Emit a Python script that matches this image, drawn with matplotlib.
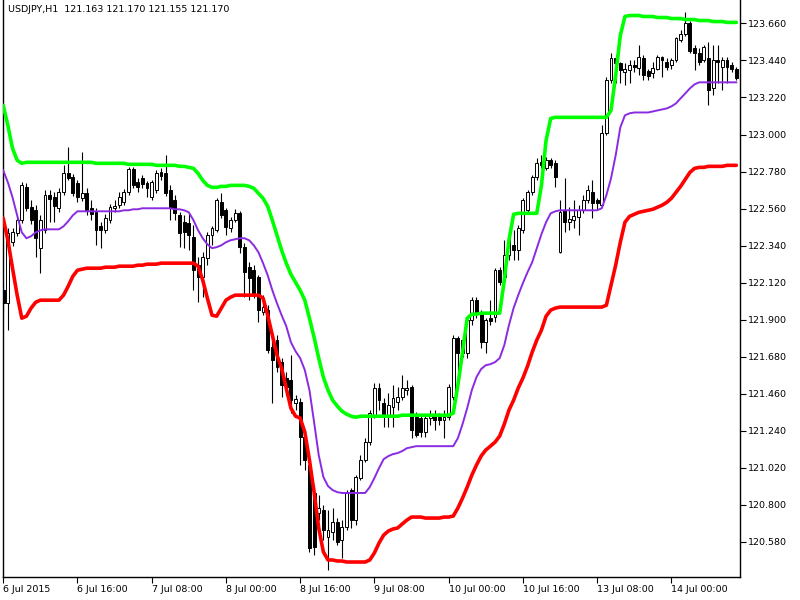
import matplotlib
matplotlib.use("Agg")
import matplotlib.pyplot as plt
import numpy as np

title_text = "USDJPY,H1  121.163 121.170 121.155 121.170"

x_tick_pos = [0, 16, 32, 48, 64, 80, 96, 112, 128, 144]
x_tick_labels = ["6 Jul 2015", "6 Jul 16:00", "7 Jul 08:00", "8 Jul 00:00", "8 Jul 16:00",
                 "9 Jul 08:00", "10 Jul 00:00", "10 Jul 16:00", "13 Jul 08:00", "14 Jul 00:00"]
y_ticks = [120.580, 120.800, 121.020, 121.240, 121.460, 121.680, 121.900, 122.120,
           122.340, 122.560, 122.780, 123.000, 123.220, 123.440, 123.660]

opens = [122.075, 121.998, 122.360, 122.413, 122.491, 122.686, 122.568, 122.550, 122.325, 122.431,
         122.639, 122.627, 122.562, 122.657, 122.769, 122.746, 122.710, 122.621, 122.651, 122.562,
         122.538, 122.455, 122.431, 122.491, 122.562, 122.580, 122.597, 122.657, 122.793, 122.716,
         122.740, 122.710, 122.627, 122.669, 122.775, 122.769, 122.669, 122.609, 122.520, 122.479,
         122.473, 122.390, 122.224, 122.152, 122.265, 122.402, 122.431, 122.597, 122.550, 122.443,
         122.491, 122.532, 122.331, 122.212, 122.194, 122.152, 121.945, 121.957, 121.737, 121.779,
         121.648, 121.553, 121.541, 121.404, 121.410, 121.203, 121.037, 120.871, 120.752, 120.770,
         120.610, 120.639, 120.698, 120.592, 120.669, 120.888, 120.710, 120.960, 121.066, 121.173,
         121.333, 121.494, 121.404, 121.333, 121.381, 121.410, 121.440, 121.482, 121.500, 121.321,
         121.316, 121.233, 121.316, 121.339, 121.321, 121.304, 121.321, 121.440, 121.790, 121.702,
         121.702, 121.897, 122.016, 121.939, 121.767, 121.909, 121.915, 122.194, 122.152, 122.283,
         122.342, 122.313, 122.431, 122.550, 122.657, 122.746, 122.835, 122.799, 122.847, 122.829,
         122.301, 122.550, 122.479, 122.491, 122.509, 122.550, 122.609, 122.657, 122.609, 122.580,
         123.007, 123.321, 123.452, 123.422, 123.369, 123.381, 123.410, 123.398, 123.452, 123.375,
         123.363, 123.392, 123.458, 123.428, 123.410, 123.440, 123.559, 123.600, 123.660, 123.511,
         123.482, 123.440, 123.452, 123.274, 123.440, 123.404, 123.440, 123.410, 123.392]
highs = [122.105, 122.443, 122.443, 122.520, 122.716, 122.710, 122.609, 122.580, 122.520, 122.669,
         122.669, 122.657, 122.681, 122.817, 122.924, 122.764, 122.728, 122.894, 122.681, 122.609,
         122.562, 122.479, 122.526, 122.586, 122.609, 122.657, 122.675, 122.805, 122.805, 122.740,
         122.758, 122.722, 122.728, 122.787, 122.799, 122.876, 122.698, 122.639, 122.538, 122.520,
         122.532, 122.461, 122.271, 122.301, 122.419, 122.455, 122.621, 122.651, 122.562, 122.509,
         122.556, 122.544, 122.354, 122.241, 122.224, 122.164, 122.046, 121.986, 121.796, 121.808,
         121.672, 121.589, 121.690, 121.452, 121.434, 121.244, 121.066, 120.918, 120.859, 120.799,
         120.770, 120.782, 120.722, 120.710, 120.888, 120.900, 120.977, 121.096, 121.197, 121.363,
         121.523, 121.523, 121.434, 121.464, 121.512, 121.500, 121.571, 121.541, 121.512, 121.351,
         121.339, 121.339, 121.363, 121.363, 121.345, 121.363, 121.518, 121.808, 121.802, 121.802,
         121.909, 122.034, 122.034, 121.957, 121.909, 122.016, 122.206, 122.212, 122.372, 122.396,
         122.431, 122.461, 122.621, 122.669, 122.758, 122.859, 122.876, 122.865, 122.859, 122.847,
         122.609, 122.740, 122.568, 122.609, 122.580, 122.639, 122.698, 122.728, 122.621, 123.054,
         123.339, 123.487, 123.470, 123.428, 123.422, 123.440, 123.440, 123.529, 123.470, 123.392,
         123.428, 123.470, 123.464, 123.452, 123.452, 123.582, 123.618, 123.725, 123.677, 123.529,
         123.511, 123.529, 123.547, 123.529, 123.529, 123.458, 123.458, 123.428, 123.404]
lows = [121.945, 121.838, 122.336, 122.396, 122.473, 122.544, 122.467, 122.271, 122.176, 122.413,
        122.479, 122.479, 122.538, 122.639, 122.728, 122.633, 122.597, 122.603, 122.520, 122.491,
        122.342, 122.325, 122.413, 122.473, 122.538, 122.562, 122.580, 122.639, 122.681, 122.657,
        122.681, 122.627, 122.609, 122.651, 122.728, 122.633, 122.491, 122.491, 122.331, 122.325,
        122.313, 122.075, 122.004, 122.034, 122.224, 122.342, 122.419, 122.503, 122.402, 122.419,
        122.479, 122.295, 122.034, 122.016, 122.028, 121.885, 121.927, 121.702, 121.404, 121.589,
        121.440, 121.452, 121.345, 121.363, 121.037, 121.007, 120.520, 120.503, 120.710, 120.592,
        120.414, 120.592, 120.562, 120.485, 120.651, 120.663, 120.681, 120.948, 121.054, 121.155,
        121.316, 121.363, 121.262, 121.262, 121.262, 121.363, 121.422, 121.452, 121.197, 121.203,
        121.203, 121.203, 121.274, 121.244, 121.274, 121.197, 121.304, 121.422, 121.583, 121.678,
        121.672, 121.868, 121.909, 121.731, 121.702, 121.868, 121.885, 122.105, 122.123, 122.253,
        122.253, 122.253, 122.413, 122.538, 122.639, 122.728, 122.799, 122.787, 122.799, 122.686,
        122.295, 122.419, 122.431, 122.443, 122.402, 122.532, 122.592, 122.503, 122.550, 122.568,
        122.995, 123.309, 123.309, 123.309, 123.292, 123.309, 123.369, 123.351, 123.321, 123.321,
        123.333, 123.381, 123.339, 123.381, 123.392, 123.428, 123.547, 123.588, 123.487, 123.381,
        123.410, 123.428, 123.173, 123.232, 123.309, 123.262, 123.309, 123.369, 123.321]
closes = [121.998, 122.414, 122.419, 122.491, 122.698, 122.562, 122.491, 122.384, 122.491, 122.639,
          122.615, 122.574, 122.657, 122.769, 122.740, 122.651, 122.627, 122.651, 122.550, 122.526,
          122.431, 122.431, 122.503, 122.568, 122.574, 122.627, 122.657, 122.793, 122.698, 122.686,
          122.704, 122.681, 122.716, 122.769, 122.752, 122.651, 122.562, 122.532, 122.413, 122.419,
          122.402, 122.194, 122.152, 122.271, 122.402, 122.443, 122.609, 122.520, 122.449, 122.491,
          122.532, 122.331, 122.182, 122.146, 122.057, 121.957, 121.975, 121.719, 121.660, 121.619,
          121.512, 121.500, 121.422, 121.428, 121.203, 121.066, 120.544, 120.550, 120.782, 120.651,
          120.651, 120.698, 120.580, 120.669, 120.871, 120.710, 120.966, 121.066, 121.173, 121.345,
          121.494, 121.422, 121.321, 121.393, 121.434, 121.440, 121.494, 121.494, 121.244, 121.215,
          121.233, 121.316, 121.339, 121.304, 121.304, 121.321, 121.500, 121.790, 121.702, 121.779,
          121.897, 122.016, 121.939, 121.767, 121.897, 121.891, 122.194, 122.123, 122.283, 122.384,
          122.313, 122.443, 122.609, 122.657, 122.746, 122.829, 122.817, 122.847, 122.817, 122.746,
          122.538, 122.479, 122.497, 122.514, 122.550, 122.609, 122.669, 122.592, 122.592, 123.007,
          123.321, 123.452, 123.422, 123.381, 123.392, 123.410, 123.404, 123.458, 123.351, 123.345,
          123.398, 123.458, 123.440, 123.404, 123.440, 123.571, 123.600, 123.660, 123.499, 123.482,
          123.428, 123.517, 123.262, 123.440, 123.428, 123.440, 123.404, 123.392, 123.333]

upper_band = [123.173, 123.054, 122.918, 122.847, 122.829, 122.835, 122.835, 122.835, 122.835, 122.835,
              122.835, 122.835, 122.835, 122.835, 122.835, 122.835, 122.835, 122.835, 122.835, 122.835,
              122.829, 122.829, 122.829, 122.829, 122.829, 122.829, 122.829, 122.823, 122.823, 122.823,
              122.823, 122.823, 122.823, 122.817, 122.817, 122.817, 122.817, 122.817, 122.811, 122.811,
              122.805, 122.799, 122.769, 122.728, 122.698, 122.686, 122.686, 122.692, 122.692, 122.698,
              122.698, 122.698, 122.698, 122.692, 122.681, 122.651, 122.621, 122.574, 122.491, 122.402,
              122.313, 122.236, 122.170, 122.123, 122.075, 122.016, 121.909, 121.796, 121.672, 121.559,
              121.482, 121.422, 121.387, 121.357, 121.339, 121.327, 121.321, 121.327, 121.327, 121.327,
              121.327, 121.327, 121.327, 121.327, 121.327, 121.327, 121.333, 121.333, 121.333, 121.333,
              121.333, 121.333, 121.333, 121.333, 121.333, 121.333, 121.333, 121.345, 121.512, 121.708,
              121.909, 121.933, 121.933, 121.939, 121.939, 121.939, 121.939, 121.939, 122.135, 122.372,
              122.526, 122.532, 122.532, 122.532, 122.532, 122.532, 122.698, 122.965, 123.096, 123.102,
              123.102, 123.102, 123.102, 123.102, 123.102, 123.102, 123.102, 123.102, 123.102, 123.102,
              123.102, 123.143, 123.351, 123.588, 123.701, 123.707, 123.707, 123.707, 123.701, 123.701,
              123.701, 123.695, 123.695, 123.695, 123.689, 123.689, 123.689, 123.683, 123.683, 123.683,
              123.677, 123.677, 123.677, 123.671, 123.671, 123.671, 123.666, 123.666, 123.666]
middle_band = [122.787, 122.716, 122.627, 122.520, 122.419, 122.384, 122.396, 122.419, 122.431, 122.437,
               122.437, 122.437, 122.437, 122.455, 122.485, 122.520, 122.544, 122.544, 122.544, 122.544,
               122.544, 122.544, 122.544, 122.544, 122.544, 122.544, 122.550, 122.550, 122.556, 122.556,
               122.562, 122.562, 122.562, 122.562, 122.562, 122.562, 122.562, 122.556, 122.556, 122.550,
               122.538, 122.491, 122.431, 122.384, 122.348, 122.325, 122.331, 122.342, 122.360, 122.372,
               122.378, 122.384, 122.384, 122.372, 122.342, 122.301, 122.236, 122.164, 122.075, 121.998,
               121.927, 121.862, 121.767, 121.713, 121.672, 121.601, 121.482, 121.292, 121.096, 120.966,
               120.912, 120.888, 120.876, 120.871, 120.871, 120.871, 120.871, 120.871, 120.871, 120.906,
               120.960, 121.019, 121.072, 121.090, 121.102, 121.108, 121.120, 121.137, 121.143, 121.149,
               121.149, 121.149, 121.149, 121.149, 121.149, 121.149, 121.149, 121.149, 121.197, 121.280,
               121.375, 121.482, 121.559, 121.607, 121.630, 121.636, 121.648, 121.672, 121.749, 121.868,
               121.969, 122.046, 122.117, 122.182, 122.241, 122.325, 122.408, 122.479, 122.532, 122.544,
               122.550, 122.550, 122.550, 122.550, 122.550, 122.550, 122.550, 122.550, 122.550, 122.562,
               122.639, 122.740, 122.876, 123.042, 123.114, 123.126, 123.131, 123.131, 123.131, 123.131,
               123.137, 123.143, 123.149, 123.155, 123.167, 123.185, 123.215, 123.244, 123.274, 123.298,
               123.310, 123.310, 123.310, 123.310, 123.310, 123.310, 123.310, 123.310, 123.310]
lower_band = [122.503, 122.372, 122.206, 122.046, 121.909, 121.921, 121.969, 122.004, 122.016, 122.016,
              122.016, 122.016, 122.016, 122.046, 122.099, 122.158, 122.194, 122.200, 122.206, 122.206,
              122.206, 122.206, 122.212, 122.212, 122.212, 122.218, 122.218, 122.218, 122.218, 122.224,
              122.224, 122.230, 122.230, 122.230, 122.236, 122.236, 122.236, 122.236, 122.236, 122.236,
              122.236, 122.236, 122.218, 122.135, 122.028, 121.927, 121.921, 121.969, 122.016, 122.034,
              122.046, 122.046, 122.046, 122.046, 122.046, 122.046, 122.028, 121.927, 121.808, 121.690,
              121.612, 121.494, 121.375, 121.327, 121.316, 121.233, 121.066, 120.876, 120.663, 120.521,
              120.473, 120.473, 120.467, 120.467, 120.461, 120.461, 120.461, 120.461, 120.461, 120.473,
              120.515, 120.574, 120.621, 120.645, 120.657, 120.663, 120.687, 120.710, 120.728, 120.728,
              120.728, 120.722, 120.722, 120.722, 120.722, 120.728, 120.728, 120.734, 120.782, 120.841,
              120.906, 120.977, 121.037, 121.090, 121.126, 121.149, 121.173, 121.209, 121.280, 121.363,
              121.422, 121.494, 121.553, 121.624, 121.707, 121.779, 121.838, 121.921, 121.957, 121.969,
              121.975, 121.975, 121.975, 121.975, 121.975, 121.975, 121.975, 121.975, 121.975, 121.975,
              121.986, 122.105, 122.224, 122.360, 122.479, 122.514, 122.526, 122.538, 122.544, 122.550,
              122.556, 122.568, 122.580, 122.597, 122.621, 122.657, 122.692, 122.734, 122.775, 122.799,
              122.805, 122.805, 122.811, 122.811, 122.811, 122.811, 122.817, 122.817, 122.817]

o = np.array(opens); h = np.array(highs); l = np.array(lows); c = np.array(closes)
idx = np.arange(len(o))

fig = plt.figure(figsize=(8, 6), dpi=100)
ax = fig.add_axes([3/800, 23/600, 737/800, 577/600])

# wicks
ax.vlines(idx, l, h, color="black", linewidth=0.8, zorder=2)
# bodies
bull = c >= o
bottoms = np.minimum(o, c)
heights = np.maximum(np.abs(c - o), 0.004)
ax.bar(idx[bull], heights[bull], bottom=bottoms[bull], width=0.62,
       facecolor="white", edgecolor="black", linewidth=0.7, zorder=3)
ax.bar(idx[~bull], heights[~bull], bottom=bottoms[~bull], width=0.62,
       facecolor="black", edgecolor="black", linewidth=0.7, zorder=3)

ax.plot(idx, upper_band, color="#00ff00", linewidth=2.6, zorder=4, solid_capstyle="round")
ax.plot(idx, middle_band, color="#8a2be2", linewidth=1.4, zorder=4)
ax.plot(idx, lower_band, color="#ff0000", linewidth=2.6, zorder=4, solid_capstyle="round")

ax.set_xlim(-0.05, 158.8)
ax.set_ylim(120.372, 123.799)

ax.spines["top"].set_visible(False)
for s in ("left", "right", "bottom"):
    ax.spines[s].set_color("black")
    ax.spines[s].set_linewidth(1.0)

ax.yaxis.tick_right()
ax.set_yticks(y_ticks)
ax.set_yticklabels([f"{v:.3f}" for v in y_ticks])
ax.tick_params(axis="y", direction="out", length=4, width=0.8, labelsize=6.8, pad=2)

ax.set_xticks(x_tick_pos)
ax.set_xticklabels(x_tick_labels, ha="left")
ax.tick_params(axis="x", direction="out", length=4, width=0.8, labelsize=6.8, pad=2)
for lab in ax.get_xticklabels():
    lab.set_horizontalalignment("left")

fig.text(8/800, 1 - 9/600, title_text, fontsize=6.8, ha="left", va="center", color="black")

fig.savefig("out.png", dpi=100)
